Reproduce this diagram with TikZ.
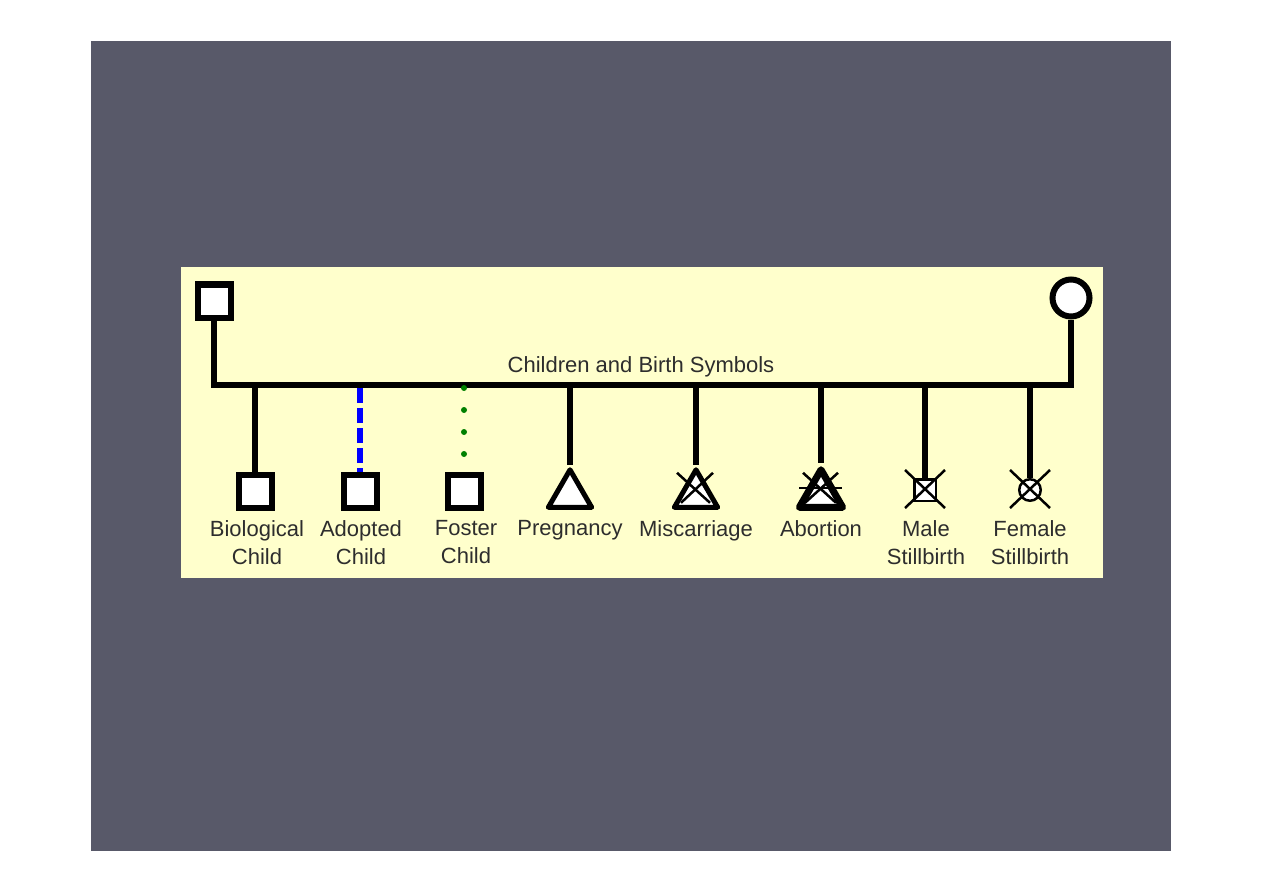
\documentclass[tikz,border=0pt]{standalone}
\usepackage{fontspec}
\setmainfont{Liberation Sans}
\usetikzlibrary{shapes.geometric}
\definecolor{slate}{RGB}{88,89,105}
\definecolor{panel}{RGB}{255,255,204}
\definecolor{adoptblue}{RGB}{0,0,255}
\definecolor{fostergreen}{RGB}{0,128,0}
\definecolor{textgray}{RGB}{45,45,45}

\begin{document}
\begin{tikzpicture}[x=1pt, y=-1pt]
    % Styles
    \tikzstyle{male} = [rectangle, draw, fill=white, line width=6pt, minimum size=33pt, inner sep=0pt]
    \tikzstyle{female} = [circle, draw, fill=white, line width=6pt, minimum size=37pt, inner sep=0pt]
    \tikzstyle{pregnancy} = [regular polygon, regular polygon sides=3, draw, fill=white, line width=5pt, line join=round, minimum size=50pt, inner sep=0pt]
    \tikzstyle{stillmale} = [rectangle, draw, fill=white, line width=2.5pt, minimum size=21.5pt, inner sep=0pt]
    \tikzstyle{stillfemale} = [circle, draw, fill=white, line width=2.5pt, minimum size=21.5pt, inner sep=0pt]
    \tikzstyle{bioline} = [line width=6pt]
    \tikzstyle{adoptline} = [line width=5.5pt, adoptblue, dash pattern=on 15pt off 5pt]
    \tikzstyle{fosterline} = [line width=6pt, fostergreen, line cap=round, dash pattern=on 0pt off 22pt]
    \tikzstyle{xmark} = [line width=2.5pt]
    \tikzstyle{symlabel} = [anchor=north, inner sep=0pt, align=center, text=textgray, font=\fontsize{22}{28}\selectfont]

    % Background
    \useasboundingbox (0,0) rectangle (1263,893);
    \fill[white] (0,0) rectangle (1263,893);
    \fill[slate] (91,41) rectangle (1171,851);
    \fill[panel] (181,267) rectangle (1103,578);

    % Parents
    \node (dad) [male] at (214,301) {};
    \node (mom) [female] at (1071,298) {};
    \coordinate (bar) at (0,385);
    \draw [bioline] (dad.south) -- (dad.south |- bar) -- (mom.south |- bar) -- (mom.south);
    \node (title) [anchor=base, text=textgray, font=\fontsize{22}{28}\selectfont] at (641,372) {Children and Birth Symbols};

    % Children
    \node (bio) [male] at (255,491) {};
    \node (adopt) [male] at (360,491) {};
    \node (foster) [male] at (464,491) {};
    \node (preg) [pregnancy] at (570,494.8) {};
    \node (misc) [pregnancy] at (696,494.8) {};
    \node (abort) [pregnancy, line width=7pt] at (821,494.8) {};
    \node (still1) [stillmale] at (925,490) {};
    \node (still2) [stillfemale] at (1030,490) {};

    % Drop points on the sibship line
    \coordinate (d1) at (255,385);
    \coordinate (d2) at (360,388);
    \coordinate (d3) at (464,388);
    \coordinate (d4) at (570,385);
    \coordinate (d5) at (696,385);
    \coordinate (d6) at (821,385);
    \coordinate (d7) at (925,385);
    \coordinate (d8) at (1030,385);

    % Lines
    \draw [bioline] (d1) -- (bio.north);
    \draw [adoptline] (d2) -- (adopt.north);
    \draw [fosterline] (d3) -- (foster.north);
    \draw [bioline] (d4) -- (preg.north);
    \draw [bioline] (d5) -- (misc.north);
    \draw [bioline] (d6) -- (abort.north);
    \draw [bioline] (d7) -- (still1.north);
    \draw [bioline] (d8) -- (still2.north);

    % Crosses
    \draw [xmark] ([shift={(-19,-22)}]misc.center) -- ([shift={(14,8)}]misc.center);
    \draw [xmark] ([shift={(17,-22)}]misc.center) -- ([shift={(-15,8)}]misc.center);
    \draw [xmark] ([shift={(-18,-22)}]abort.center) -- ([shift={(15,8)}]abort.center);
    \draw [xmark] ([shift={(17,-22)}]abort.center) -- ([shift={(-16,8)}]abort.center);
    \draw [xmark] ([shift={(-22,-7)}]abort.center) -- ([shift={(21,-7)}]abort.center);
    \draw [xmark] ([shift={(-20,-20)}]still1.center) -- ([shift={(20,18)}]still1.center);
    \draw [xmark] ([shift={(20,-20)}]still1.center) -- ([shift={(-20,18)}]still1.center);
    \draw [xmark] ([shift={(-20,-20)}]still2.center) -- ([shift={(20,18)}]still2.center);
    \draw [xmark] ([shift={(20,-20)}]still2.center) -- ([shift={(-20,18)}]still2.center);

    % Labels
    \node (lbio) [symlabel] at (257,520) {Biological\\Child};
    \node (ladopt) [symlabel] at (361,520) {Adopted\\Child};
    \node (lfoster) [symlabel] at (466,520) {Foster\\Child};
    \node (lpreg) [symlabel] at (570,520) {Pregnancy};
    \node (lmisc) [symlabel] at (696,520) {Miscarriage};
    \node (labort) [symlabel] at (821,520) {Abortion};
    \node (lstill1) [symlabel] at (926,520) {Male\\Stillbirth};
    \node (lstill2) [symlabel] at (1030,520) {Female\\Stillbirth};
\end{tikzpicture}
\end{document}
